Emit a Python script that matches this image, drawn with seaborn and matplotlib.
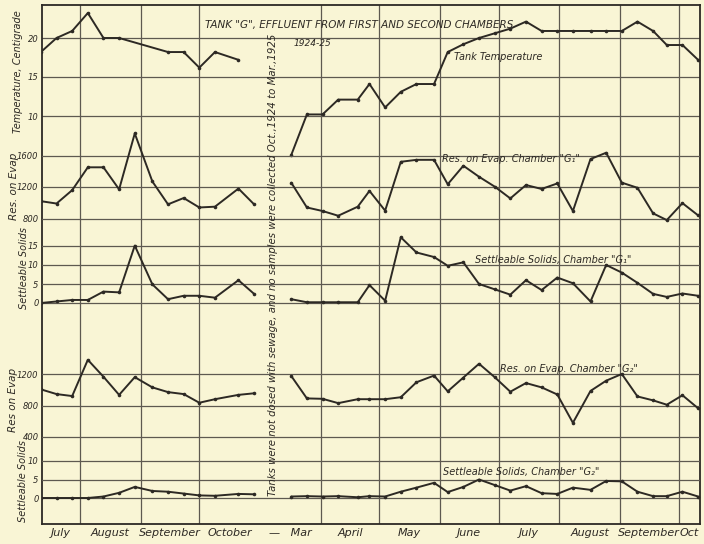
import seaborn as sns
import pandas as pd
import numpy as np
import matplotlib.pyplot as plt

nan = np.nan

# sample dates (no samples between Oct. 1924 and Mar. 1925)
dates_1924 = ['07-12', '07-20', '07-28', '08-05', '08-13', '08-21', '08-29',
              '09-07', '09-15', '09-23', '10-01', '10-09', '10-21', '10-29']
dates_1925 = ['03-17', '03-25', '04-02', '04-10', '04-20', '04-26', '05-04',
              '05-12', '05-20', '05-29', '06-05', '06-13', '06-21', '06-29',
              '07-07', '07-15', '07-23', '07-31', '08-08', '08-17', '08-25',
              '09-02', '09-10', '09-18', '09-25', '10-03', '10-11']

# tank temperature, deg C
temp_1924 = [18.2, 20.0, 20.9, 23.2, 20.0, 20.0, nan, nan, 18.2, 18.2, 16.2, 18.2, 17.2, nan]
temp_1925 = [5.0, 10.2, 10.2, 12.1, 12.1, 14.1, 11.1, 13.1, 14.1, 14.1, 18.2, 19.2, 20.0, 20.6,
             21.2, 22.1, 20.9, 20.9, 20.9, 20.9, 20.9, 20.9, 22.1, 20.9, 19.1, 19.1, 17.2]

# residue on evaporation, chamber G1
res1_1924 = [1020, 990, 1160, 1450, 1450, 1170, 1880, 1270, 980, 1060, 940, 950, 1180, 980]
res1_1925 = [1255, 940, 895, 835, 950, 1150, 900, 1520, 1545, 1545, 1235, 1470, 1330, 1205,
             1055, 1225, 1175, 1245, 895, 1555, 1635, 1255, 1190, 865, 780, 995, 840]

# settleable solids, chamber G1
settle1_1924 = [0.0, 0.4, 0.8, 0.8, 3.0, 2.8, 15.1, 4.9, 1.0, 1.9, 1.9, 1.4, 6.0, 2.4]
settle1_1925 = [1.0, 0.2, 0.2, 0.2, 0.2, 4.7, 0.6, 17.3, 13.3, 12.1, 9.8, 10.7, 5.0, 3.6,
                2.2, 6.0, 3.4, 6.7, 5.2, 0.4, 10.0, 8.0, 5.3, 2.4, 1.6, 2.5, 1.9]

# residue on evaporation, chamber G2
res2_1924 = [1005, 945, 920, 1380, 1165, 935, 1160, 1030, 970, 945, 835, 880, 935, 955]
res2_1925 = [1175, 890, 885, 830, 880, 880, 880, 905, 1095, 1180, 980, 1155, 1330, 1160,
             975, 1085, 1030, 940, 580, 985, 1115, 1200, 915, 865, 810, 930, 765]

# settleable solids, chamber G2
settle2_1924 = [0.0, 0.0, 0.0, 0.0, 0.4, 1.4, 3.0, 1.9, 1.7, 1.2, 0.7, 0.6, 1.1, 1.0]
settle2_1925 = [0.4, 0.5, 0.4, 0.5, 0.2, 0.5, 0.4, 1.7, 2.8, 4.1, 1.6, 3.0, 5.0, 3.5,
                2.0, 3.2, 1.3, 1.1, 2.8, 2.2, 4.6, 4.5, 1.7, 0.5, 0.5, 1.7, 0.4]

month_starts = ['1924-08-01', '1924-09-01', '1924-10-01', '1925-04-01', '1925-05-01',
                '1925-06-01', '1925-07-01', '1925-08-01', '1925-09-01', '1925-10-01']
month_names = ['July', 'August', 'September', 'October', '\u2014   Mar', 'April', 'May',
               'June', 'July', 'August', 'September', 'Oct']

series_labels = ['Tank Temperature',
                 'Res. on Evap. Chamber "G\u2081"',
                 'Settleable Solids, Chamber "G\u2081"',
                 'Res. on Evap. Chamber "G\u2082"',
                 'Settleable Solids, Chamber "G\u2082"']


def chart_day(date):
    # Nov. 1924 - Feb. 1925 are left out of the axis
    d = pd.Timestamp(date)
    if d.year == 1924:
        return (d - pd.Timestamp('1924-07-01')).days
    return 123 + (d - pd.Timestamp('1925-03-01')).days


frames = []
for year, dates, cols in [(1924, dates_1924, [temp_1924, res1_1924, settle1_1924, res2_1924, settle2_1924]),
                          (1925, dates_1925, [temp_1925, res1_1925, settle1_1925, res2_1925, settle2_1925])]:
    f = pd.DataFrame({'day': [chart_day('%d-%s' % (year, md)) for md in dates],
                      'temp': cols[0], 'res1': cols[1], 'settle1': cols[2],
                      'res2': cols[3], 'settle2': cols[4]})
    f['year'] = year
    frames.append(f)
df = pd.concat(frames, ignore_index=True)

paper = '#f9f5d5'
ink = '#2d2924'
gridc = '#5e5950'

sns.set_theme(style='white', rc={'axes.facecolor': paper, 'figure.facecolor': paper})
plt.rcParams['font.family'] = ['DejaVu Sans']
plt.rcParams['font.style'] = 'italic'

W, H = 704, 544
left, right, top, bottom = 42, 700, 5, 524
rect = [left / W, 1 - bottom / H, (right - left) / W, (bottom - top) / H]

# horizontal scale: Aug 1 1924 at x=80 px, 1.956 px per day
kx = 1.956
xmin = 31 + (left - 80) / kx
xmax = 31 + (right - 80) / kx


def ylim_from(v1, p1, v2, p2):
    s = (p2 - p1) / (v2 - v1)
    return v1 + (bottom - p1) / s, v1 + (top - p1) / s


panels = [
    ('temp', [10, 15, 20], ['10', '15', '20'], (20, 38, 10, 116), 'Temperature, Centigrade', 7, (18, 72)),
    ('res1', [800, 1200, 1600], ['800', '1200', '1600'], (1200, 187, 800, 218.5), 'Res. on Evap', 7.5, (14, 186)),
    ('settle1', [0, 5, 10, 15], ['0', '5', '10', '15'], (0, 303, 15, 246), 'Settleable Solids', 7, (24, 268)),
    ('res2', [400, 800, 1200], ['400', '800', '1200'], (1200, 374, 400, 437), 'Res on Evap', 7.5, (13, 400)),
    ('settle2', [0, 5, 10], ['0', '5', '10'], (0, 498, 10, 461), 'Settleable Solids', 7, (23, 481)),
]

fig = plt.figure(figsize=(W / 100, H / 100), dpi=100)
axes = []
for i, (col, ticks, tlabels, anchors, ylab, lsize, lpos) in enumerate(panels):
    ax = fig.add_axes(rect, label=col)
    ax.set_xlim(xmin, xmax)
    ax.set_ylim(*ylim_from(*anchors))
    ax.set_yticks(ticks)
    ax.set_yticklabels(tlabels)
    ax.tick_params(axis='y', length=0, pad=2.5, labelsize=6, labelcolor=ink)
    ax.grid(axis='y', color=gridc, lw=0.9)
    if i > 0:
        ax.patch.set_visible(False)
        ax.set_xticks([])
        for sp in ax.spines.values():
            sp.set_visible(False)
    for year in (1924, 1925):
        seg = df[df['year'] == year][['day', col]].dropna()
        sns.lineplot(x='day', y=col, data=seg, ax=ax, color=ink, lw=1.4,
                     marker='o', markersize=2.6, markeredgewidth=0, sort=True)
    ax.set_xlabel('')
    ax.set_ylabel(ylab, fontsize=lsize, color=ink)
    ax.yaxis.set_label_coords((lpos[0] - left) / (right - left), (bottom - lpos[1]) / (bottom - top))
    ax.yaxis.label.set_verticalalignment('center')
    axes.append(ax)

base = axes[0]
for sp in base.spines.values():
    sp.set_color(ink)
    sp.set_linewidth(1.3)
starts = [chart_day(m) for m in month_starts]
for x in starts:
    base.axvline(x, color=gridc, lw=0.9, zorder=0.5)
bounds = [xmin] + starts[:3] + [123] + starts[3:] + [xmax]
mids = [(a + b) / 2 for a, b in zip(bounds[:-1], bounds[1:])]
base.set_xticks(mids)
base.set_xticklabels(month_names)
base.tick_params(axis='x', length=0, pad=3, labelsize=8, labelcolor=ink)


def px(x, y):
    return x / W, 1 - y / H


fig.text(*px(359, 25), 'TANK "G", EFFLUENT FROM FIRST AND SECOND CHAMBERS',
         ha='center', va='center', fontsize=7.5, color=ink)
fig.text(*px(312, 43), '1924-25', ha='center', va='center', fontsize=6.5, color=ink)
fig.text(*px(273, 265), 'Tanks were not dosed with sewage, and no samples were collected Oct.,1924 to Mar.,1925',
         rotation=90, ha='center', va='center', fontsize=7.3, color=ink)

label_pos = [(454, 57), (442, 159), (475, 260), (500, 369), (443, 472)]
for lab, (x, y) in zip(series_labels, label_pos):
    fig.text(*px(x, y), lab, ha='left', va='center', fontsize=7, color=ink)

plt.savefig('out.png', dpi=100, facecolor=paper)
